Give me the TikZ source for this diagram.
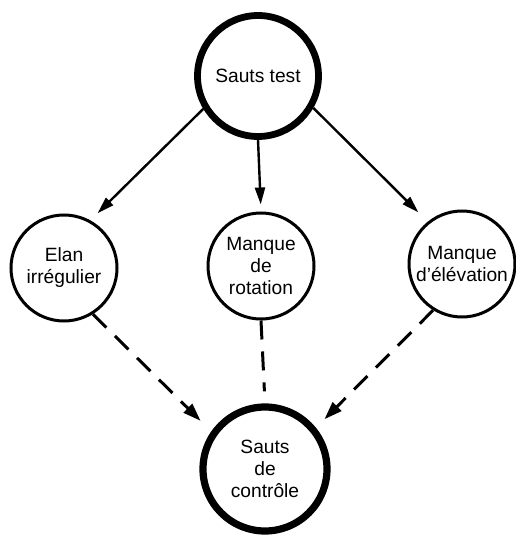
\documentclass[tikz,border=0pt]{standalone}
\usepackage{fontspec}
\setmainfont{Liberation Sans}
\usetikzlibrary{arrows.meta}
\begin{document}
\begin{tikzpicture}[x=0.5pt,y=-0.5pt,
  saut/.style={circle,draw,line width=3.4pt,minimum size=60.5pt,inner sep=0pt,align=center,font=\fontsize{9.6}{11}\selectfont},
  cause/.style={circle,draw,line width=1.5pt,minimum size=53pt,inner sep=0pt,align=center,font=\fontsize{9.6}{11}\selectfont},
  fleche/.style={line width=1.2pt,-{Triangle[length=8.5pt,width=5pt]}},
  tiret/.style={line width=1.5pt,dash pattern=on 9.5pt off 6pt,-{Triangle[length=9pt,width=6pt]}}]
\useasboundingbox (0,0) rectangle (515,535);
\node[saut] (test) at (258,76) {Sauts test};
\node[cause] (elan) at (64,268) {Elan\\irrégulier};
\node[cause] (rot) at (261,266) {Manque\\de\\rotation};
\node[cause] (elev) at (462,264) {Manque\\d’élévation};
\node[saut,minimum size=62pt,line width=3.6pt] (ctrl) at (265,469) {Sauts\\de\\contrôle};
% fleches pleines
\draw[fleche,shorten >=5pt] (test.211) -- (elan.61);
\draw[fleche,shorten >=3.5pt] (test.south) -- (rot.north);
\draw[fleche,shorten >=6.5pt] (test.-30) -- (elev.129);
% fleches en tirets
\draw[tiret,shorten >=7.5pt] (elan.-58) -- (ctrl.145);
\draw[tiret,-,shorten >=6pt] (rot.south) -- (ctrl.north);
\draw[tiret,shorten >=6pt] (elev.-122) -- (ctrl.39);
\end{tikzpicture}
\end{document}
